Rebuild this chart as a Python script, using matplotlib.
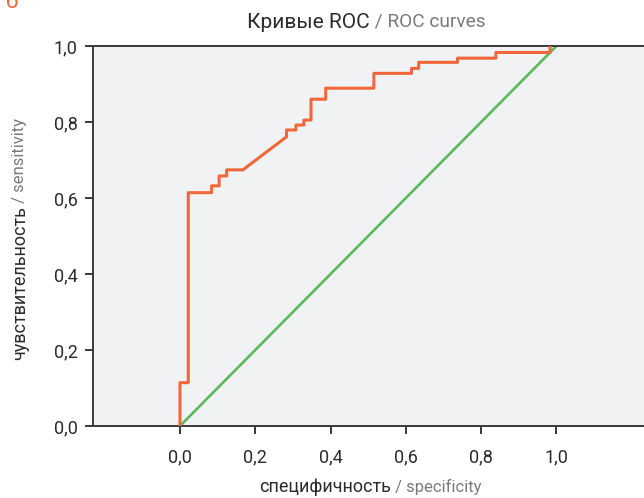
import matplotlib
matplotlib.use("Agg")
import matplotlib.pyplot as plt
from matplotlib import font_manager
from matplotlib.ticker import FuncFormatter

# ROC curve vertices
fpr = [0.0, 0.0, 0.022, 0.022, 0.084, 0.084, 0.104, 0.104, 0.124, 0.124, 0.167,
	0.283, 0.283, 0.308, 0.308, 0.329, 0.329, 0.348, 0.348, 0.387, 0.387, 0.515,
	0.515, 0.615, 0.615, 0.634, 0.634, 0.737, 0.737, 0.839, 0.839, 0.983, 0.983]
tpr = [0.0, 0.114, 0.114, 0.614, 0.614, 0.632, 0.632, 0.658, 0.658, 0.674, 0.674,
	0.761, 0.779, 0.779, 0.792, 0.792, 0.805, 0.805, 0.860, 0.860, 0.889, 0.889,
	0.928, 0.928, 0.941, 0.941, 0.957, 0.957, 0.968, 0.968, 0.983, 0.983, 1.0]
diag = [0.0, 1.0]
ticks = [0.0, 0.2, 0.4, 0.6, 0.8, 1.0]

title_dark, title_light = "Кривые ROC", "ROC curves"
xlabel_dark, xlabel_light = "специфичность", "specificity"
ylabel_dark, ylabel_light = "чувствительность", "sensitivity"

DARK = "#2b2b2b"
GREY = "#7a7a7a"
ORANGE = "#f0673a"
GREEN = "#5bb85c"

def pick_font(names):
	for n in names:
		try:
			font_manager.findfont(n, fallback_to_default=False)
			return n
		except Exception:
			pass
	return "DejaVu Sans"

plt.rcParams['font.family'] = [pick_font(["Liberation Sans Narrow", "Roboto", "Open Sans"]), "DejaVu Sans"]

fig = plt.figure(figsize=(6.44, 4.98), dpi=100)
W, H = 644, 498
ax = fig.add_axes([93/W, 1-426/H, 1-93/W, (426-46)/H])
ax.set_facecolor("#f1f2f4")

ax.plot(diag, diag, color=GREEN, lw=1.9, solid_capstyle='butt', zorder=2)
ax.plot(fpr, tpr, color=ORANGE, lw=2.2, zorder=3)

ax.set_xlim(-0.231, (644-180)/376.5)
ax.set_ylim(0, 1)
ax.set_xticks(ticks)
ax.set_yticks(ticks)
comma = FuncFormatter(lambda v, p: ("%.1f" % v).replace(".", ","))
ax.xaxis.set_major_formatter(comma)
ax.yaxis.set_major_formatter(comma)
ax.tick_params(direction='out', length=6, width=1.3, color=DARK, labelcolor=DARK, labelsize=13, pad=5)
ax.tick_params(axis='x', pad=10)
for s in ['left', 'bottom', 'top']:
	ax.spines[s].set_color("#3a3a3a")
	ax.spines[s].set_linewidth(1.4)
ax.spines['right'].set_visible(False)

r = fig.canvas.get_renderer()

def two_tone(cx, cy, dark, light, size, rotation=0):
	t1 = fig.text(0, 0, dark, size=size, color=DARK, rotation=rotation, ha='left', va='center')
	t2 = fig.text(0, 0, " / " + light, size=size*0.92, color=GREY, rotation=rotation, ha='left', va='center')
	e1 = t1.get_window_extent(r)
	e2 = t2.get_window_extent(r)
	if rotation == 0:
		total = e1.width + e2.width
		x0 = cx*W - total/2
		t1.set_position((x0/W, cy))
		t2.set_position(((x0 + e1.width)/W, cy))
	else:
		total = e1.height + e2.height
		y0 = cy*H - total/2
		t1.set_ha('center'); t1.set_va('bottom')
		t2.set_ha('center'); t2.set_va('bottom')
		t1.set_position((cx, y0/H))
		t2.set_position((cx, (y0 + e1.height)/H))

two_tone(366/W, 1-22/H, title_dark, title_light, 15)
two_tone(370/W, 1-487/H, xlabel_dark, xlabel_light, 13)
two_tone(20/W, 1-239/H, ylabel_dark, ylabel_light, 13, rotation=90)

# panel letter, cut off at the top edge as in the source
fig.text(12/W, 1-2/H, "б", size=16, color=ORANGE, ha='center', va='center')

fig.savefig("out.png", dpi=100)
